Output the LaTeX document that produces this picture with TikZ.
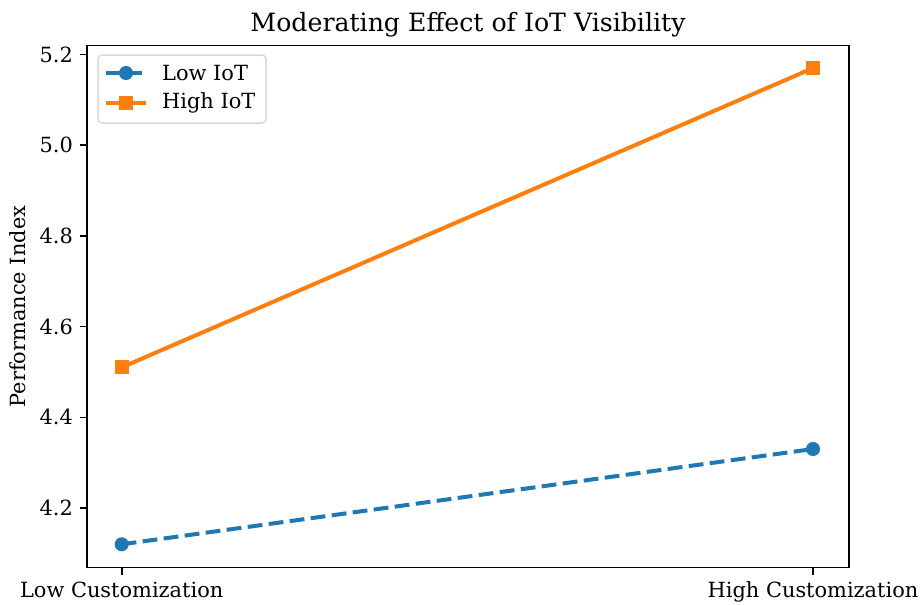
\documentclass[tikz,border=0pt]{standalone}
\usepackage{fontspec}
\setmainfont{DejaVu Serif}
\definecolor{tabblue}{HTML}{1F77B4}
\definecolor{taborange}{HTML}{FF7F0E}
\pgfdeclarelayer{bg}
\pgfsetlayers{bg,main}
\tikzset{
  ticklabel/.style={font=\fontsize{20.9}{24}\selectfont, inner sep=0pt},
  spine/.style={line width=1.6pt, black},
  tickmark/.style={line width=1.6pt, black},
  lowmark/.style={circle, fill=tabblue, draw=tabblue, line width=2pt, minimum size=12pt, inner sep=0pt},
  highmark/.style={rectangle, fill=taborange, draw=taborange, line width=2pt, minimum size=12pt, inner sep=0pt},
  lowline/.style={tabblue, line width=4pt, dash pattern=on 14.8pt off 6.4pt, line cap=butt},
  highline/.style={taborange, line width=4pt, line cap=butt},
}
\begin{document}
\begin{tikzpicture}[x=1pt,y=-1pt]
\useasboundingbox (0,0) rectangle (921,605);
\begin{pgfonlayer}{bg}
  \fill[white] (0,0) rectangle (921,605);
\end{pgfonlayer}

% axes frame
\coordinate (axtl) at (87,45.5);
\coordinate (axbr) at (849,567.5);
\draw[spine] (axtl) rectangle (axbr);

% y ticks and labels
\foreach \v/\yy [count=\k] in {4.2/508, 4.4/417.3, 4.6/326.6, 4.8/235.9, 5.0/145.2, 5.2/54.5}{
  \coordinate (yt\k) at (87,\yy);
  \draw[tickmark] (yt\k) -- ++(-7,0) coordinate (ytend\k);
  \node[ticklabel, anchor=east] (ylab\k) at ([xshift=-7pt]ytend\k) {\v};
}

% x ticks and labels
\coordinate (xtlow) at (121.7,567.5);
\coordinate (xthigh) at (813,567.5);
\draw[tickmark] (xtlow) -- ++(0,7) coordinate (xtlowend);
\draw[tickmark] (xthigh) -- ++(0,7) coordinate (xthighend);
\node[ticklabel, anchor=north] (xlablow) at ([yshift=-7pt]xtlowend) {Low Customization};
\node[ticklabel, anchor=north] (xlabhigh) at ([yshift=-7pt]xthighend) {High Customization};

% axis label and title
\node[ticklabel, rotate=90] (ylabel) at (17.5,306.5) {Performance Index};
\node[font=\fontsize{25.2}{29}\selectfont, inner sep=0pt, anchor=base] (title) at (468,31.5) {Moderating Effect of IoT Visibility};

% data
\node[lowmark] (low1) at (121.7,544.3) {};
\node[lowmark] (low2) at (813,449.0) {};
\node[highmark] (high1) at (121.7,367.4) {};
\node[highmark] (high2) at (813,68.1) {};
\begin{pgfonlayer}{bg}
  \draw[lowline] (low1.center) -- (low2.center);
  \draw[highline] (high1.center) -- (high2.center);
\end{pgfonlayer}

% legend
\draw[fill=white, fill opacity=0.8, draw=black!15, line width=1.5pt, rounded corners=4pt] (98,55) rectangle (266,123);
\coordinate (lega) at (106,73);
\coordinate (legb) at (146,73);
\coordinate (legc) at (106,103);
\coordinate (legd) at (146,103);
\draw[tabblue, line width=4pt, dash pattern=on 14.8pt off 6.4pt] (lega) -- (legb);
\draw[highline] (legc) -- (legd);
\node[lowmark] (legmlow) at (126,73) {};
\node[highmark] (legmhigh) at (126,103) {};
\node[ticklabel, anchor=west] (legtlow) at (162,73) {Low IoT};
\node[ticklabel, anchor=west] (legthigh) at (162,103) {High IoT};
\end{tikzpicture}
\end{document}
